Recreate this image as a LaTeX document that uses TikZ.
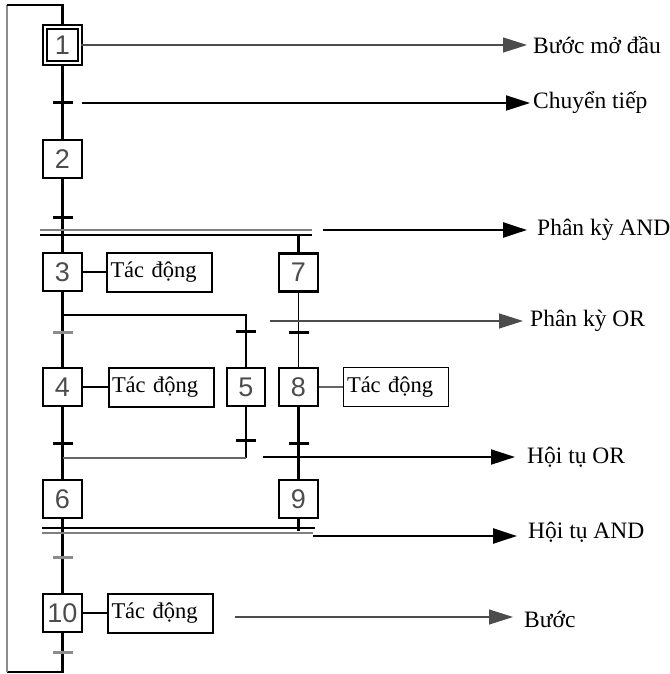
\documentclass[tikz,border=0pt]{standalone}
\usepackage{fontspec}
\setmainfont{Liberation Serif}
\setsansfont{Liberation Sans}
\usetikzlibrary{arrows.meta,positioning}

\begin{document}
\begin{tikzpicture}[
    x=1pt, y=-1pt,
    >={Triangle[length=24pt,width=15pt]},
    stepbox/.style={draw, line width=2.4pt, minimum width=38.5pt, minimum height=38pt, inner sep=0pt, font=\sffamily\fontsize{27}{27}\selectfont, text=black!70},
    initstep/.style={stepbox, double, double distance=2pt, line width=2pt, minimum width=35pt, minimum height=36pt},
    action/.style={draw, line width=2pt, minimum height=39pt, text width=98pt, align=left, inner xsep=3.5pt, font=\fontsize{22.5}{24}\selectfont},
    trans/.style={fill=black, minimum width=20pt, minimum height=3pt, inner sep=0pt},
    greytrans/.style={trans, fill=black!45},
    flow/.style={line width=2.4pt},
    thinline/.style={line width=1.2pt, black!60},
    loopline/.style={line width=2pt, black!45},
    pointer/.style={->, line width=2pt},
    thinpointer/.style={->, line width=1.3pt, black!70},
    tag/.style={anchor=west, inner ysep=0pt, font=\fontsize{23.5}{26}\selectfont}
]
\useasboundingbox (0,0) rectangle (669,674);

% Steps
\node[initstep] (s1) at (62.5,45) {1};
\node[stepbox] (s2) at (62.5,159) {2};
\node[stepbox] (s3) at (62.5,272) {3};
\node[stepbox] (s7) at (298.5,272.5) {7};
\node[stepbox] (s4) at (62.5,387) {4};
\node[stepbox] (s5) at (246,387) {5};
\node[stepbox] (s8) at (298.5,387) {8};
\node[stepbox] (s6) at (62.5,499) {6};
\node[stepbox] (s9) at (298.5,499) {9};
\node[stepbox] (s10) at (62.5,613) {10};

% Actions
\node[action] (a3) at (159.5,272) {Tác động};
\node[action] (a4) at (161,387) {Tác động};
\node[action, line width=1.5pt] (a8) at (396,387) {Tác động};
\node[action] (a10) at (160.5,613) {Tác động};

% Branch points
\coordinate (andDvA) at (40,230);
\coordinate (andDvB) at (312,230);
\coordinate (andDvC) at (40,235);
\coordinate (andDvD) at (312,235);
\coordinate (orDv) at (246,315);
\coordinate (orCv) at (246,458);
\coordinate (andCvA) at (42,528);
\coordinate (andCvB) at (315,528);
\coordinate (andCvC) at (42,533);
\coordinate (andCvD) at (313,533);
\coordinate (loopBR) at (62.5,672);
\coordinate (loopBL) at (7,672);
\coordinate (loopTL) at (7,5);
\coordinate (loopTR) at (62.5,5);

% Links
\draw[flow] (s1) -- (s2);
\draw[flow] (s2) -- (s3);
\draw[flow] (s3) -- (s4);
\draw[flow] (s4) -- (s6);
\draw[flow] (s6) -- (s10);
\draw[flow] (s10) -- (loopBR) -- (loopBL);
\draw[loopline] (loopBL) -- (loopTL);
\draw[flow] (loopTL) -- (loopTR) -- (s1);
\draw[line width=1.5pt, black!50] (andDvA) -- (andDvB);
\draw[flow] (andDvC) -- (andDvD);
\draw[flow] (s7 |- andDvC) -- (s7);
\draw[line width=1.6pt] (s7) -- (s8);
\draw[flow] (s8) -- (s9);
\draw[flow] (s9) -- ([yshift=-3pt]s9 |- andCvA);
\draw[flow] (s3 |- orDv) -| (s5);
\draw[flow] (s5) -- (orCv);
\draw[thinline] (orCv) -- (s4 |- orCv);
\draw[flow] (andCvA) -- (andCvB);
\draw[line width=1.5pt, black!50] (andCvC) -- (andCvD);
\draw[line width=2pt] (s3) -- (a3);
\draw[line width=2pt] (s4) -- (a4);
\draw[thinline] (s8) -- (a8);
\draw[line width=2.4pt] (s10) -- (a10);

% Transitions
\node[trans] (t1) at (62.5,103) {};
\node[trans] (t2) at (62.5,217) {};
\node[greytrans] (t3) at (62.5,332) {};
\node[trans] (t5) at (246,331) {};
\node[trans] (t7) at (298.5,332) {};
\node[trans] (t4) at (62.5,443) {};
\node[trans] (t6) at (246,440) {};
\node[trans] (t8) at (298.5,443) {};
\node[greytrans] (t9) at (62.5,557) {};
\node[greytrans] (t10) at (62.5,652) {};

% Legend
\node[tag, inner xsep=6pt] (l1) at (527,45) {Bước mở đầu};
\node[tag, inner xsep=3pt] (l2) at (530,103) {Chuyển tiếp};
\node[tag, inner xsep=10pt] (l3) at (527,230) {Phân kỳ AND};
\node[tag, inner xsep=7pt] (l4) at (523,321) {Phân kỳ OR};
\node[tag, inner xsep=12pt] (l5) at (515,457) {Hội tụ OR};
\node[tag, inner xsep=11pt] (l6) at (517,532) {Hội tụ AND};
\node[tag, inner xsep=11pt] (l7) at (513,619) {Bước};

\coordinate (p2) at (82,103);
\coordinate (p3) at (323,230);
\coordinate (p4) at (270,321);
\coordinate (p5) at (263,457);
\coordinate (p6) at (313,536);
\coordinate (p7) at (235,617);

\draw[thinpointer] (s1) -- (s1 -| l1.west);
\draw[pointer] (p2) -- (l2);
\draw[pointer, line width=2.4pt] (p3) -- (l3);
\draw[thinpointer] (p4) -- (l4);
\draw[pointer] (p5) -- (l5);
\draw[pointer, line width=2.4pt] (p6) -- (p6 -| l6.west);
\draw[thinpointer] (p7) -- (p7 -| l7.west);

\end{tikzpicture}
\end{document}
